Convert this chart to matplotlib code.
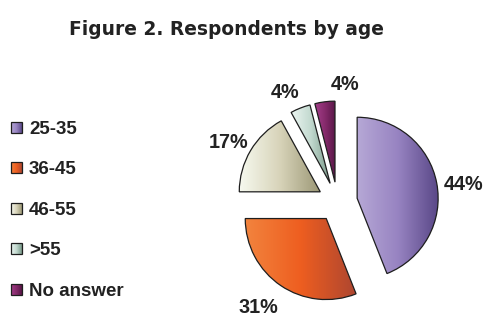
import numpy as np
import matplotlib
matplotlib.use("Agg")
import matplotlib.pyplot as plt
from matplotlib.colors import LinearSegmentedColormap
from matplotlib.patches import Rectangle

# ---- data ----
categories = ['25-35', '36-45', '46-55', '>55', 'No answer']
shares = [44, 31, 17, 4, 4]
title = 'Figure 2. Respondents by age'

# ---- style / layout ----
grad_colors = [
    ['#B6A8D6', '#9884C2', '#5A4888'],
    ['#F2843E', '#EE5E20', '#AE4630'],
    ['#F7FAF0', '#D8D4BA', '#9C9876'],
    ['#ECF6F2', '#C2D9CF', '#789888'],
    ['#A43E8A', '#84296A', '#561646'],
]
W, H = 487, 316
pie_center = (337.5, 114.0)
pie_radius = 81
explode_px = 20
# percent label placement: (angle deg, distance px) from pie centre, baseline anchored
label_polar = [(5.4, 127.1), (-125.3, 136.6), (153.6, 121.6), (116.8, 116.5), (86.2, 112.3)]
FONT = 'Liberation Sans'
FS = 13.5
FS_PCT = 14.2
FS_TITLE = 13.4
edge = '#1E1E1E'
txt_col = '#222222'

fig = plt.figure(figsize=(W / 100, H / 100), dpi=100)
ax = fig.add_axes([0, 0, 1, 1])
ax.set_xlim(0, W)
ax.set_ylim(0, H)
ax.axis('off')

wedges, _ = ax.pie(shares, explode=[explode_px] * len(shares), startangle=90,
                   counterclock=False, radius=pie_radius, center=pie_center,
                   wedgeprops=dict(edgecolor=edge, linewidth=0.9, facecolor='none'),
                   frame=True)
ax.axis('off')

grad = np.linspace(0, 1, 256).reshape(1, -1)
for w, cols in zip(wedges, grad_colors):
    w.set_facecolor('none')
    w.set_zorder(3)
    ext = w.get_path().get_extents()
    cmap = LinearSegmentedColormap.from_list('g', cols)
    im = ax.imshow(grad, extent=[ext.x0, ext.x1, ext.y0, ext.y1], cmap=cmap,
                   aspect='auto', zorder=2, interpolation='bilinear')
    im.set_clip_path(w)

# percent labels
for v, (ang, dist) in zip(shares, label_polar):
    a = np.deg2rad(ang)
    ax.text(pie_center[0] + dist * np.cos(a), pie_center[1] + dist * np.sin(a),
            f'{v:.0f}%', ha='center', va='baseline', fontsize=FS_PCT,
            fontweight='bold', family=FONT, color=txt_col, zorder=5)

# legend (manual)
leg_x = 11
leg_y0 = H - 127.5
leg_dy = 40.4
sq = 11
for i, (cat, cols) in enumerate(zip(categories, grad_colors)):
    yc = leg_y0 - i * leg_dy
    rect = Rectangle((leg_x, yc - sq / 2), sq, sq, facecolor='none',
                     edgecolor=edge, linewidth=0.9, zorder=4)
    ax.add_patch(rect)
    cmap = LinearSegmentedColormap.from_list('g', cols)
    im = ax.imshow(grad, extent=[leg_x, leg_x + sq, yc - sq / 2, yc + sq / 2],
                   cmap=cmap, aspect='auto', zorder=3, interpolation='bilinear')
    im.set_clip_path(rect)
    ax.text(leg_x + 18, yc - 6.5, cat, ha='left', va='baseline', fontsize=FS,
            fontweight='bold', family=FONT, color=txt_col)

# title
ax.text(226.5, H - 35, title, ha='center', va='baseline', fontsize=FS_TITLE,
        fontweight='bold', family='DejaVu Sans', color=txt_col)

ax.set_xlim(0, W)
ax.set_ylim(0, H)
ax.set_aspect('auto')
fig.savefig('out.png', dpi=100)
